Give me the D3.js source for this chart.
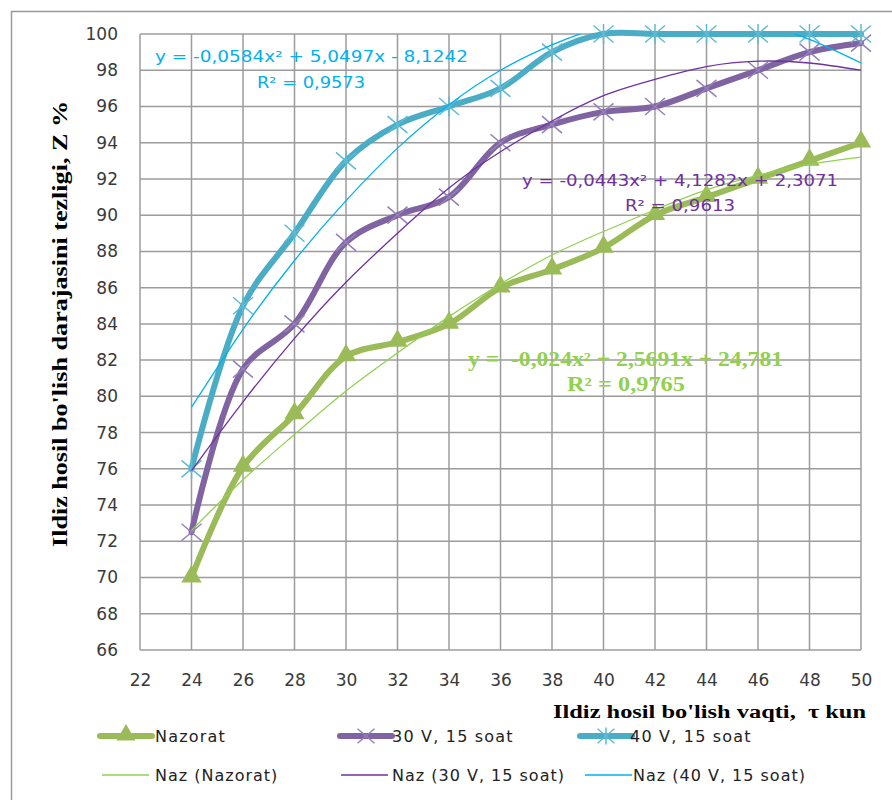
<!DOCTYPE html>
<html>
<head>
<meta charset="utf-8">
<script src="https://cdn.jsdelivr.net/npm/d3@7"></script>
<style>
  html, body { margin: 0; padding: 0; background: #fff; }
  svg { display: block; }
</style>
</head>
<body>
<svg id="chart" width="892" height="800"></svg>
<script>
// ---------------- DATA ----------------
const xValues = [24, 26, 28, 30, 32, 34, 36, 38, 40, 42, 44, 46, 48, 50];
const nazorat = [70, 76.1, 79, 82.2, 83, 84, 86, 87, 88.2, 90, 91, 92, 93, 94];
const v30 = [72.5, 81.5, 84, 88.5, 90, 91, 94, 95, 95.7, 96, 97, 98, 99, 99.5];
const v40 = [76, 85, 89, 93, 95, 96, 97, 99, 100, 100, 100, 100, 100, 100];
// trend lines (values above 100 are cut off at the plot top)
const trendNazorat = [72.6, 75.4, 77.9, 80.3, 82.4, 84.4, 86.2, 87.8, 89.1, 90.3, 91.4, 92.2, 92.8, 93.2];
const trendV30 = [75.9, 79.7, 83.2, 86.3, 89.0, 91.5, 93.5, 95.2, 96.6, 97.5, 98.2, 98.5, 98.4, 98.0];
const trendV40 = [79.4, 83.7, 87.5, 90.8, 93.7, 96.1, 98.0, 99.4, 100.4, 100.9, 101.0, 100.6, 99.7, 98.4];
const xTicks = [22, 24, 26, 28, 30, 32, 34, 36, 38, 40, 42, 44, 46, 48, 50];
const yTicks = [66, 68, 70, 72, 74, 76, 78, 80, 82, 84, 86, 88, 90, 92, 94, 96, 98, 100];
const seriesNames = ["Nazorat", "30 V, 15 soat", "40 V, 15 soat"];
const trendNames = ["Naz (Nazorat)", "Naz (30 V, 15 soat)", "Naz (40 V, 15 soat)"];
const equations = ["y =  -0,024x² + 2,5691x + 24,781", "y = -0,0443x² + 4,1282x + 2,3071", "y = -0,0584x² + 5,0497x - 8,1242"];
const rSquared = ["R² = 0,9765", "R² = 0,9613", "R² = 0,9573"];
const yTitle = "Ildiz hosil bo'lish darajasini tezligi, Z %";
const xTitle = "Ildiz hosil bo'lish vaqti,  τ kun";

// ---------------- LAYOUT ----------------
const svg = d3.select("#chart");
const L = 140, R = 861, T = 34, B = 650;
const x = d3.scaleLinear().domain([22, 50]).range([L, R]);
const y = d3.scaleLinear().domain([66, 100]).range([B, T]);

const colors = {
  main: ["#9BBB59", "#8064A2", "#4BACC6"],
  marker: ["#9BBB59", "#9580b8", "#5fbad2"],
  trend: ["#92D050", "#7030A0", "#00B0F0"]
};

svg.append("rect").attr("width", 892).attr("height", 800).attr("fill", "#fff");
// outer chart frame
svg.append("rect").attr("x", 11.5).attr("y", 11.5).attr("width", 1000).attr("height", 1000)
  .attr("fill", "none").attr("stroke", "#9a9a9a").attr("stroke-width", 1.5);

// grid
const grid = svg.append("g");
grid.selectAll("line.h").data(yTicks).join("line")
  .attr("x1", L).attr("x2", R).attr("y1", d => y(d)).attr("y2", d => y(d))
  .attr("stroke", "#9c9c9c").attr("stroke-width", 1.5);
grid.selectAll("line.v").data(xTicks).join("line")
  .attr("y1", T).attr("y2", B).attr("x1", d => x(d)).attr("x2", d => x(d))
  .attr("stroke", "#9c9c9c").attr("stroke-width", 1.5);

// axes (labels only, via d3 axes)
const yAxis = svg.append("g").attr("transform", `translate(${L - 22},0)`)
  .call(d3.axisLeft(y).tickValues(yTicks).tickSize(0).tickPadding(0).tickFormat(d3.format("d")));
yAxis.select(".domain").remove();
yAxis.selectAll("text").attr("font-family", "DejaVu Sans").attr("font-size", 17).attr("fill", "#3a3a3a");

const xAxis = svg.append("g").attr("transform", `translate(0,${B + 24})`)
  .call(d3.axisBottom(x).tickValues(xTicks).tickSize(0).tickPadding(0).tickFormat(d3.format("d")));
xAxis.select(".domain").remove();
xAxis.selectAll("text").attr("font-family", "DejaVu Sans").attr("font-size", 17).attr("fill", "#3a3a3a");

// titles
svg.append("text").attr("transform", "translate(67,324) rotate(-90)")
  .attr("text-anchor", "middle").attr("font-family", "Liberation Serif").attr("font-weight", "bold")
  .attr("font-size", 21).attr("textLength", 446).attr("lengthAdjust", "spacingAndGlyphs")
  .attr("fill", "#000").text(yTitle);
svg.append("text").attr("x", 866).attr("y", 718).attr("text-anchor", "end")
  .attr("font-family", "Liberation Serif").attr("font-weight", "bold")
  .attr("font-size", 18).attr("textLength", 313).attr("lengthAdjust", "spacingAndGlyphs")
  .attr("fill", "#000").attr("xml:space", "preserve").text(xTitle);

// ---------------- SERIES ----------------
const allSeries = [nazorat, v30, v40];
const allTrends = [trendNazorat, trendV30, trendV40];

const mainLine = d3.line().x((d, i) => x(xValues[i])).y(d => y(d)).curve(d3.curveCatmullRom.alpha(0.5));
const trendLine = d3.line().x((d, i) => x(xValues[i])).y(d => y(d)).curve(d3.curveNatural);

function drawMarker(g, type, cx, cy, s) {
  if (type === 0) {
    g.append("path").attr("d", d3.symbol().type(d3.symbolTriangle).size(s * s * 0.55)())
      .attr("transform", `translate(${cx},${cy - 1})`).attr("fill", colors.marker[0]);
  } else {
    const h = s / 2;
    const p = d3.path();
    p.moveTo(cx - h, cy - h * 0.85); p.lineTo(cx + h, cy + h * 0.85);
    p.moveTo(cx - h, cy + h * 0.85); p.lineTo(cx + h, cy - h * 0.85);
    if (type === 2) { p.moveTo(cx, cy - h); p.lineTo(cx, cy + h); }
    g.append("path").attr("d", p.toString()).attr("fill", "none")
      .attr("stroke", colors.marker[type]).attr("stroke-width", 1.5);
  }
}

allSeries.forEach((vals, si) => {
  const g = svg.append("g");
  g.append("path").datum(vals).attr("d", mainLine).attr("fill", "none")
    .attr("stroke", colors.main[si]).attr("stroke-width", 6).attr("stroke-linejoin", "round").attr("stroke-linecap", "round");
  vals.forEach((v, i) => drawMarker(g, si, x(xValues[i]), y(v), si === 0 ? 18 : 20));
});

// clip for trend lines
svg.append("clipPath").attr("id", "plotClip").append("rect")
  .attr("x", L).attr("y", T).attr("width", R - L).attr("height", B - T);
allTrends.forEach((vals, si) => {
  svg.append("path").datum(vals).attr("d", trendLine).attr("fill", "none")
    .attr("clip-path", "url(#plotClip)")
    .attr("stroke", colors.trend[si]).attr("stroke-width", 1.3);
});

// equation labels
const eqPos = [
  { x: 468, y: 366, w: 315, rx: 567, ry: 391, rw: 118, serif: true },
  { x: 522, y: 186, w: 316, rx: 625, ry: 211, rw: 110, serif: false },
  { x: 155, y: 62, w: 313, rx: 257, ry: 88, rw: 108, serif: false }
];
eqPos.forEach((p, si) => {
  const fam = p.serif ? "Liberation Serif" : "DejaVu Sans";
  const fw = p.serif ? "bold" : "normal";
  const fs = p.serif ? 20 : 16;
  svg.append("text").attr("x", p.x).attr("y", p.y).attr("font-family", fam).attr("font-weight", fw)
    .attr("font-size", fs).attr("textLength", p.w).attr("lengthAdjust", "spacingAndGlyphs")
    .attr("fill", colors.trend[si]).attr("xml:space", "preserve").text(equations[si]);
  svg.append("text").attr("x", p.rx).attr("y", p.ry).attr("font-family", fam).attr("font-weight", fw)
    .attr("font-size", fs).attr("textLength", p.rw).attr("lengthAdjust", "spacingAndGlyphs")
    .attr("fill", colors.trend[si]).text(rSquared[si]);
});

// ---------------- LEGEND ----------------
const legX = [100, 340, 580];
const legText = [155, 392, 630];
const legY1 = 736, legY2 = 775;
seriesNames.forEach((name, si) => {
  const g = svg.append("g");
  g.append("line").attr("x1", legX[si]).attr("x2", legX[si] + 52).attr("y1", legY1).attr("y2", legY1)
    .attr("stroke", colors.main[si]).attr("stroke-width", 6).attr("stroke-linecap", "round");
  drawMarker(g, si, legX[si] + 26, legY1, si === 0 ? 17 : 17);
  g.append("text").attr("x", legText[si]).attr("y", legY1 + 6).attr("font-family", "DejaVu Sans")
    .attr("font-size", 16).attr("letter-spacing", 1.2).attr("fill", "#222").text(name);
});
trendNames.forEach((name, si) => {
  const g = svg.append("g");
  const lx = [102, 341, 585][si];
  g.append("line").attr("x1", lx).attr("x2", lx + 47).attr("y1", legY2).attr("y2", legY2)
    .attr("stroke", colors.trend[si]).attr("stroke-width", 1.5);
  g.append("text").attr("x", legText[si] + (si === 2 ? 3 : 0)).attr("y", legY2 + 6).attr("font-family", "DejaVu Sans")
    .attr("font-size", 16).attr("letter-spacing", 1.0).attr("fill", "#222").text(name);
});
</script>
</body>
</html>
